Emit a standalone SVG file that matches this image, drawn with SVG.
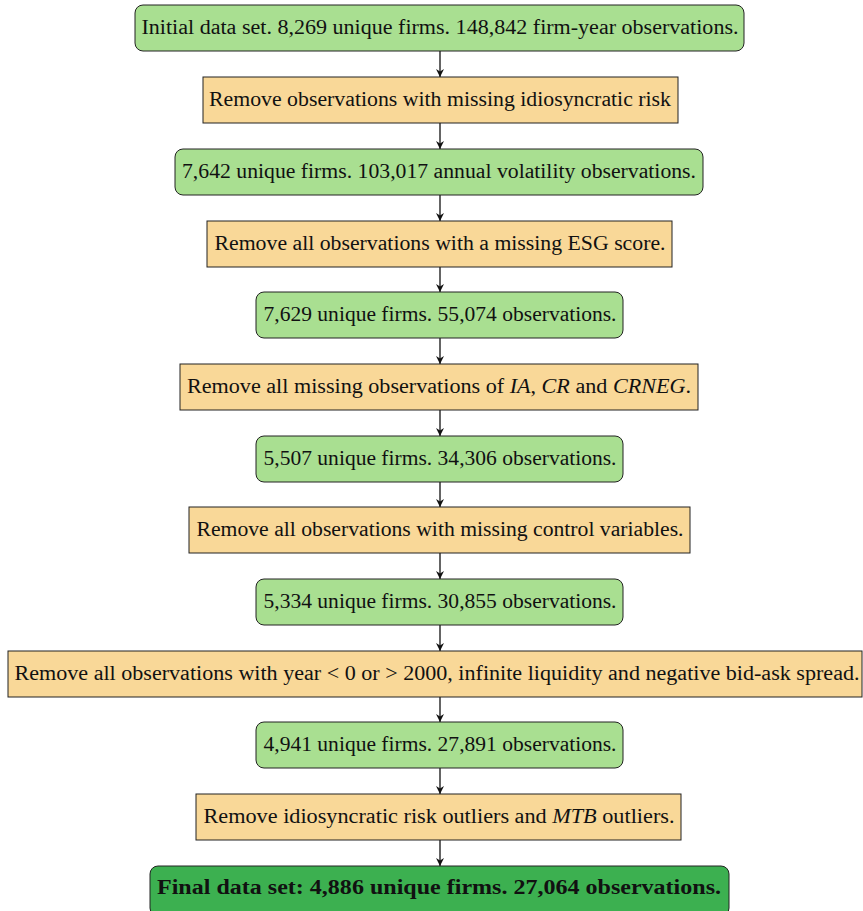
<svg xmlns="http://www.w3.org/2000/svg" width="863" height="911" viewBox="0 0 863 911">
<style>
.g{fill:#a9df91;stroke:#222;stroke-width:1}
.o{fill:#f9d898;stroke:#222;stroke-width:1}
.d{fill:#3cb050;stroke:#222;stroke-width:1}
text{font-family:"Liberation Serif","DejaVu Serif",serif;font-size:20px;fill:#111;text-anchor:middle;dominant-baseline:central}
.b{font-weight:bold}
.i{font-style:italic}
.c{stroke:#111;stroke-width:1.3;fill:none;marker-end:url(#ah)}
</style>
<defs>
<marker id="ah" markerWidth="9" markerHeight="9" refX="8" refY="4.5" orient="auto" markerUnits="userSpaceOnUse">
<path d="M0,0.5 L8,4.5 L0,8.5 L2.5,4.5 Z" fill="#111"/>
</marker>
</defs>
<g id="connectors">
<line class="c" x1="440" y1="51" x2="440" y2="77"/>
<line class="c" x1="440" y1="123" x2="440" y2="149"/>
<line class="c" x1="440" y1="195" x2="440" y2="221"/>
<line class="c" x1="440" y1="267" x2="440" y2="292"/>
<line class="c" x1="440" y1="338" x2="440" y2="364"/>
<line class="c" x1="440" y1="410" x2="440" y2="436"/>
<line class="c" x1="440" y1="482" x2="440" y2="507"/>
<line class="c" x1="440" y1="553" x2="440" y2="579"/>
<line class="c" x1="440" y1="625" x2="440" y2="651"/>
<line class="c" x1="440" y1="697" x2="440" y2="722"/>
<line class="c" x1="440" y1="768" x2="440" y2="794"/>
<line class="c" x1="440" y1="840" x2="440" y2="866"/>
</g>
<g id="n1"><rect class="g" x="135" y="5" width="609" height="46" rx="8"/><text x="440" y="27" textLength="597" lengthAdjust="spacingAndGlyphs">Initial data set. 8,269 unique firms. 148,842 firm-year observations.</text></g>
<g id="n2"><rect class="o" x="203" y="77" width="475" height="46"/><text x="440" y="99" textLength="462" lengthAdjust="spacingAndGlyphs">Remove observations with missing idiosyncratic risk</text></g>
<g id="n3"><rect class="g" x="175" y="149" width="528" height="46" rx="8"/><text x="439" y="171" textLength="514" lengthAdjust="spacingAndGlyphs">7,642 unique firms. 103,017 annual volatility observations.</text></g>
<g id="n4"><rect class="o" x="207" y="221" width="465" height="46"/><text x="440" y="243" textLength="451" lengthAdjust="spacingAndGlyphs">Remove all observations with a missing ESG score.</text></g>
<g id="n5"><rect class="g" x="256" y="292" width="367" height="46" rx="8"/><text x="440" y="314" textLength="353" lengthAdjust="spacingAndGlyphs">7,629 unique firms. 55,074 observations.</text></g>
<g id="n6"><rect class="o" x="180" y="364" width="518" height="46"/><text x="439" y="386" textLength="504" lengthAdjust="spacingAndGlyphs">Remove all missing observations of <tspan class="i">IA</tspan>, <tspan class="i">CR</tspan> and <tspan class="i">CRNEG</tspan>.</text></g>
<g id="n7"><rect class="g" x="256" y="436" width="367" height="46" rx="8"/><text x="440" y="458" textLength="353" lengthAdjust="spacingAndGlyphs">5,507 unique firms. 34,306 observations.</text></g>
<g id="n8"><rect class="o" x="189" y="507" width="501" height="46"/><text x="440" y="529" textLength="487" lengthAdjust="spacingAndGlyphs">Remove all observations with missing control variables.</text></g>
<g id="n9"><rect class="g" x="256" y="579" width="367" height="46" rx="8"/><text x="440" y="601" textLength="353" lengthAdjust="spacingAndGlyphs">5,334 unique firms. 30,855 observations.</text></g>
<g id="n10"><rect class="o" x="8" y="651" width="854" height="46"/><text x="437" y="673" textLength="845" lengthAdjust="spacingAndGlyphs">Remove all observations with year &lt; 0 or &gt; 2000, infinite liquidity and negative bid-ask spread.</text></g>
<g id="n11"><rect class="g" x="256" y="722" width="367" height="46" rx="8"/><text x="440" y="744" textLength="353" lengthAdjust="spacingAndGlyphs">4,941 unique firms. 27,891 observations.</text></g>
<g id="n12"><rect class="o" x="196" y="794" width="485" height="46"/><text x="439" y="816" textLength="471" lengthAdjust="spacingAndGlyphs">Remove idiosyncratic risk outliers and <tspan class="i">MTB</tspan> outliers.</text></g>
<g id="n13"><rect class="d" x="150" y="866" width="579" height="50" rx="8"/><text class="b" x="439" y="887" textLength="564" lengthAdjust="spacingAndGlyphs">Final data set: 4,886 unique firms. 27,064 observations.</text></g>
</svg>
